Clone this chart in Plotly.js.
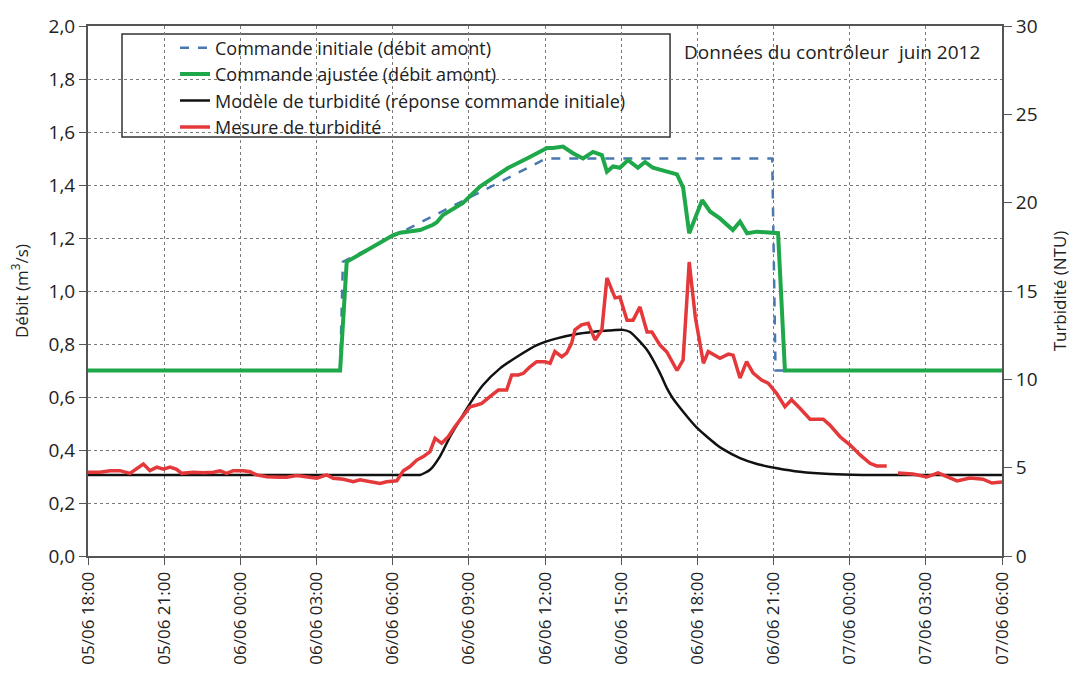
<!DOCTYPE html>
<html>
<head>
<meta charset="utf-8">
<script src="https://cdn.plot.ly/plotly-3.0.1.min.js"></script>
<style>html,body{margin:0;padding:0;background:#fff;}#chart{width:1071px;height:687px;}</style>
</head>
<body>
<div id="chart"></div>
<script>
// Hours elapsed since 05/06 18:00
const tickHours = [0,3,6,9,12,15,18,21,24,27,30,33,36];
const tickLabels = ["05/06 18:00","05/06 21:00","06/06 00:00","06/06 03:00","06/06 06:00","06/06 09:00","06/06 12:00","06/06 15:00","06/06 18:00","06/06 21:00","07/06 00:00","07/06 03:00","07/06 06:00"];

// Commande initiale (débit amont), m3/s
const initHours = [0, 9.93, 10.04, 12.0, 14.0, 16.0, 18.04, 26.95, 27.08, 36];
const initFlow  = [0.70, 0.70, 1.11, 1.205, 1.30, 1.40, 1.50, 1.50, 0.70, 0.70];

// Commande ajustée (débit amont), m3/s
const adjHours = [0, 9.93, 10.19, 10.98, 12.01, 12.29, 13.08, 13.59, 13.75, 13.98, 14.77, 15.44, 16.23, 16.54, 17.29, 18.08, 18.31, 18.71, 19.10, 19.50, 19.89, 20.24, 20.44, 20.68, 20.95, 21.27, 21.66, 21.94, 22.25, 22.80, 23.20, 23.44, 23.68, 24.19, 24.50, 24.89, 25.40, 25.68, 25.96, 26.35, 26.86, 27.18, 27.45, 36];
const adjFlow  = [0.70, 0.70, 1.11, 1.155, 1.21, 1.22, 1.23, 1.25, 1.26, 1.287, 1.332, 1.394, 1.445, 1.464, 1.50, 1.54, 1.54, 1.545, 1.52, 1.50, 1.525, 1.513, 1.45, 1.47, 1.465, 1.494, 1.465, 1.487, 1.465, 1.45, 1.44, 1.39, 1.218, 1.343, 1.30, 1.274, 1.230, 1.262, 1.218, 1.224, 1.218, 1.218, 0.70, 0.70];

// Modèle de turbidité (réponse commande initiale), NTU
const modelHours = [0, 12.8, 13.08, 13.47, 13.86, 14.26, 14.65, 15.05, 15.56, 16.23, 16.90, 17.68, 18.47, 19.26, 19.77, 20.17, 20.56, 21.07, 21.35, 22.02, 22.53, 22.80, 23.00, 23.20, 23.71, 23.99, 24.38, 24.77, 25.01, 25.68, 26.35, 27.14, 28.04, 29.22, 30.52, 36];
const modelNTU   = [4.59, 4.59, 4.59, 4.88, 5.63, 6.75, 7.70, 8.64, 9.68, 10.62, 11.28, 11.94, 12.32, 12.57, 12.66, 12.74, 12.77, 12.80, 12.68, 11.66, 10.35, 9.50, 9.00, 8.60, 7.70, 7.25, 6.75, 6.29, 6.05, 5.54, 5.21, 4.97, 4.77, 4.64, 4.59, 4.59];

// Mesure de turbidité, NTU (null = gap in measurements)
const measHours = [0, 0.47, 0.87, 1.26, 1.65, 1.92, 2.18, 2.44, 2.71, 2.97, 3.23, 3.49, 3.69, 4.15, 4.54, 4.94, 5.20, 5.46, 5.72, 6.12, 6.38, 6.64, 7.04, 7.56, 7.83, 8.22, 8.61, 9.01, 9.40, 9.66, 10.06, 10.45, 10.71, 11.11, 11.50, 11.76, 12.16, 12.42, 12.68, 12.95, 13.21, 13.47, 13.67, 13.93, 14.19, 14.45, 14.72, 15.05, 15.31, 15.51, 15.83, 16.16, 16.49, 16.69, 16.95, 17.15, 17.41, 17.67, 18.00, 18.20, 18.39, 18.66, 18.85, 19.05, 19.18, 19.44, 19.70, 19.97, 20.24, 20.44, 20.76, 20.95, 21.23, 21.47, 21.74, 22.02, 22.21, 22.53, 22.80, 23.20, 23.44, 23.68, 23.92, 24.24, 24.43, 24.89, 25.22, 25.41, 25.68, 25.94, 26.20, 26.53, 26.79, 27.12, 27.45, 27.71, 28.04, 28.44, 28.96, 29.22, 29.62, 30.01, 30.41, 30.80, 31.06, 31.46, 31.68, 31.90, 32.49, 33.04, 33.48, 34.23, 34.74, 35.25, 35.60, 36];
const measNTU   = [4.74, 4.74, 4.82, 4.83, 4.68, 4.97, 5.21, 4.83, 5.03, 4.91, 5.03, 4.91, 4.68, 4.74, 4.71, 4.74, 4.82, 4.68, 4.83, 4.83, 4.77, 4.59, 4.49, 4.46, 4.46, 4.55, 4.46, 4.40, 4.59, 4.40, 4.34, 4.20, 4.31, 4.20, 4.11, 4.20, 4.26, 4.83, 5.06, 5.43, 5.63, 5.91, 6.66, 6.38, 6.75, 7.32, 7.80, 8.45, 8.55, 8.64, 9.02, 9.39, 9.39, 10.25, 10.25, 10.34, 10.71, 11.00, 11.00, 10.91, 11.57, 11.28, 11.48, 12.05, 12.80, 13.08, 13.17, 12.23, 12.80, 15.74, 14.61, 14.66, 13.35, 13.35, 14.10, 12.68, 12.68, 11.94, 11.55, 10.50, 11.10, 16.64, 13.53, 10.91, 11.57, 11.19, 11.43, 11.37, 10.07, 11.00, 10.35, 9.96, 9.78, 9.21, 8.45, 8.84, 8.36, 7.74, 7.74, 7.41, 6.75, 6.29, 5.72, 5.25, 5.10, 5.10, null, 4.70, 4.64, 4.47, 4.70, 4.25, 4.41, 4.35, 4.13, 4.19];

const FONT = "Open Sans, Noto Sans, sans-serif";

const traces = [
  {x: initHours, y: initFlow, name: "Commande initiale (débit amont)", type: "scatter", mode: "lines",
   line: {color: "#4a78b0", width: 2.5, dash: "dash"}, yaxis: "y"},
  {x: adjHours, y: adjFlow, name: "Commande ajustée (débit amont)", type: "scatter", mode: "lines",
   line: {color: "#1fa84a", width: 4}, yaxis: "y"},
  {x: modelHours, y: modelNTU, name: "Modèle de turbidité (réponse commande initiale)", type: "scatter", mode: "lines",
   line: {color: "#111111", width: 2.5, shape: "spline", smoothing: 0.6}, yaxis: "y2"},
  {x: measHours, y: measNTU, name: "Mesure de turbidité", type: "scatter", mode: "lines",
   line: {color: "#e5383b", width: 3.5}, yaxis: "y2", connectgaps: false}
];

const layout = {
  width: 1071, height: 687,
  margin: {l: 88, r: 69, t: 26, b: 131},
  paper_bgcolor: "#fff", plot_bgcolor: "#fff",
  separators: ", ",
  font: {family: FONT, size: 17, color: "#222"},
  showlegend: true,
  legend: {x: 0.0952, y: 0.9934, xanchor: "left", yanchor: "top", bgcolor: "rgba(0,0,0,0)", borderwidth: 0,
           font: {family: FONT, size: 18, color: "#222"}, tracegroupgap: 0},
  xaxis: {range: [0, 36], tickmode: "array", tickvals: tickHours, ticktext: tickLabels, tickangle: -90,
          showgrid: true, gridcolor: "#7a7a7a", griddash: "dot", gridwidth: 1,
          showline: true, linecolor: "#555", linewidth: 2, mirror: true,
          ticks: "outside", ticklen: 7, tickcolor: "#555", zeroline: false,
          tickfont: {family: FONT, size: 17, color: "#222"}},
  yaxis: {range: [0, 2], dtick: 0.2, tick0: 0, tickformat: ".1f",
          showgrid: true, gridcolor: "#7a7a7a", griddash: "dot", gridwidth: 1,
          showline: true, linecolor: "#555", linewidth: 2, mirror: true,
          ticks: "outside", ticklen: 7, tickcolor: "#555", zeroline: false,
          tickfont: {family: FONT, size: 19, color: "#222"},
          title: {text: "Débit (m<sup>3</sup>/s)", font: {family: FONT, size: 17, color: "#222"}, standoff: 16}},
  yaxis2: {range: [0, 30], dtick: 5, tick0: 0, overlaying: "y", side: "right",
           showgrid: false, zeroline: false, showline: true, linecolor: "#555", linewidth: 2,
           ticks: "outside", ticklen: 8, tickcolor: "#555",
           tickfont: {family: FONT, size: 19, color: "#222"},
           title: {text: "Turbidité (NTU)", font: {family: FONT, size: 17, color: "#222"}, standoff: 18}},
  shapes: [
    {type: "rect", xref: "paper", yref: "paper", x0: 0.0372, x1: 0.6368, y0: 0.7906, y1: 0.985,
     fillcolor: "#fff", line: {color: "#333", width: 1.5}, layer: "between"}
  ],
  annotations: [
    {text: "Données du contrôleur\u00a0 juin 2012", xref: "paper", yref: "paper", x: 0.978, y: 0.951,
     xanchor: "right", yanchor: "middle", showarrow: false, font: {family: FONT, size: 19, color: "#222"}}
  ]
};

Plotly.newPlot("chart", traces, layout, {displayModeBar: false, staticPlot: true});
</script>
</body>
</html>
